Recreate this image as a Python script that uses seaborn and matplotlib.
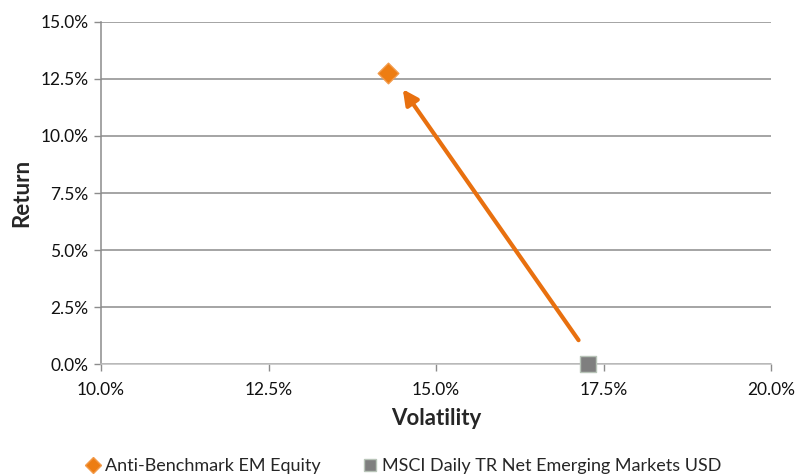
import matplotlib
matplotlib.use("Agg")
import matplotlib.pyplot as plt
import pandas as pd
import seaborn as sns
from matplotlib.ticker import PercentFormatter, MultipleLocator

# data (in percent)
series = ["Anti-Benchmark EM Equity", "MSCI Daily TR Net Emerging Markets USD"]
volatility = [14.28, 17.27]
returns = [12.78, 0.0]
arrow_start = (17.15, 0.95)
arrow_end = (14.48, 12.15)

colors = {series[0]: "#ED7D12", series[1]: "#7F7F7F"}
markers = {series[0]: "D", series[1]: "s"}

df = pd.DataFrame({"Volatility": volatility, "Return": returns, "Series": series})

sns.set_style("white")
plt.rcParams["font.family"] = ["Lato", "DejaVu Sans"]

fig = plt.figure(figsize=(7.95, 4.76), dpi=100)
ax = fig.add_axes([0.127, 0.235, 0.843, 0.719])

for s in series:
    sub = df[df["Series"] == s]
    sns.scatterplot(data=sub, x="Volatility", y="Return", ax=ax, marker=markers[s],
                    color=colors[s], s=110 if s == series[0] else 120,
                    edgecolor="#F29A4A" if s == series[0] else "#B8C4B8",
                    linewidth=1.0, label=s, zorder=4, clip_on=False, legend=False)

ax.annotate("", xy=arrow_end, xytext=arrow_start,
            arrowprops=dict(arrowstyle="-|>,head_length=0.9,head_width=0.45",
                            color="#E8700F", lw=3), zorder=3)

ax.set_xlim(10, 20)
ax.set_ylim(0, 15)
ax.xaxis.set_major_locator(MultipleLocator(2.5))
ax.yaxis.set_major_locator(MultipleLocator(2.5))
ax.xaxis.set_major_formatter(PercentFormatter(decimals=1))
ax.yaxis.set_major_formatter(PercentFormatter(decimals=1))

ax.grid(axis="y", color="#8C8C8C", lw=1.1)
ax.grid(axis="x", visible=False)
for side in ["top", "right"]:
    ax.spines[side].set_visible(False)
ax.spines["left"].set_color("#8C8C8C")
ax.spines["bottom"].set_color("#BFBFBF")
ax.spines["left"].set_linewidth(1.1)
ax.spines["bottom"].set_linewidth(1.1)

ax.tick_params(axis="both", which="major", length=5, width=1, color="#8C8C8C",
               direction="out", labelsize=12.5, labelcolor="#111111", pad=4,
               bottom=True, left=True)
ax.tick_params(axis="x", pad=8)

ax.set_xlabel("Volatility", fontsize=16, fontweight="bold", labelpad=7)
ax.set_ylabel("Return", fontsize=16, fontweight="bold", labelpad=6)

handles = [
    plt.Line2D([], [], marker=markers[s], color=colors[s], linestyle="none",
               markersize=8.5 if s == series[0] else 9,
               markeredgecolor="#F29A4A" if s == series[0] else "#B8C4B8")
    for s in series
]
fig.legend(handles, series, loc="center", bbox_to_anchor=(0.507, 0.021), ncol=2,
           frameon=False, fontsize=13, handletextpad=0.2, columnspacing=2.3,
           handlelength=0.9, borderaxespad=0, borderpad=0)

fig.savefig("out.png", dpi=100)
